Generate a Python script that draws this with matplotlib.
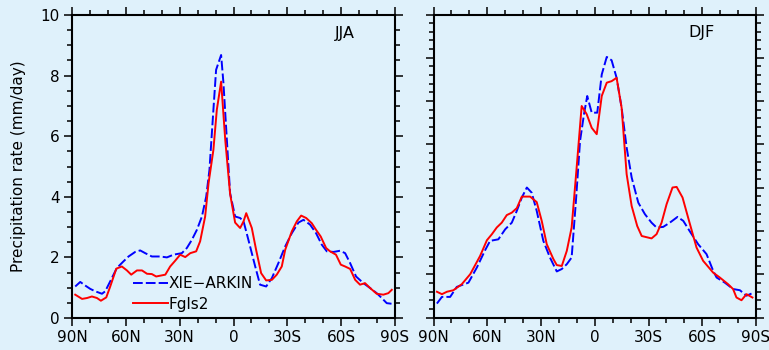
import numpy as np
import matplotlib
matplotlib.use("Agg")
import matplotlib.pyplot as plt
from matplotlib.ticker import FixedLocator, MultipleLocator

# ---------------- data ----------------
xtick_vals = [90, 60, 30, 0, -30, -60, -90]
xtick_labels = ["90N", "60N", "30N", "0", "30S", "60S", "90S"]
series_names = ["XIE\u2212ARKIN", "Fgls2"]
panel_titles = ["JJA", "DJF"]

# JJA, XIE-ARKIN
jja_xa_lat = [88.2, 85.4, 82.6, 79.8, 77.0, 73.3, 71.5, 68.7, 65.0, 61.3, 58.5, 54.8,
              52.0, 49.2, 45.5, 40.8, 37.1, 33.4, 28.8, 26.0, 23.2, 20.4, 17.6, 15.2,
              13.4, 11.2, 9.7, 6.9, 5.6, 3.7, 1.9, -0.9, -3.7, -5.6, -8.3, -12.1, -14.8,
              -18.2, -21.4, -25.0, -28.8, -32.5, -36.2, -39.0, -42.7, -46.0, -49.2, -52.0,
              -55.7, -59.4, -62.2, -65.0, -68.3, -72.4, -76.1, -79.8, -82.6, -85.4, -88.2]
jja_xa_val = [1.04, 1.19, 1.07, 0.96, 0.88, 0.80, 0.88, 1.21, 1.65, 1.87, 2.03, 2.18,
              2.23, 2.14, 2.03, 2.03, 2.00, 2.09, 2.14, 2.31, 2.58, 2.91, 3.35, 4.01,
              4.89, 6.87, 8.19, 8.68, 7.75, 5.88, 4.12, 3.35, 3.30, 3.19, 2.58, 1.70, 1.10,
              1.04, 1.32, 1.81, 2.36, 2.80, 3.15, 3.24, 3.08, 2.80, 2.42, 2.20,
              2.18, 2.22, 2.14, 1.81, 1.37, 1.15, 0.99, 0.82, 0.66, 0.49, 0.47]

# JJA, Fgls2
jja_fg_lat = [88.2, 84.4, 81.6, 78.9, 76.1, 73.9, 70.9, 68.7, 65.3, 62.2, 59.4, 57.0,
              53.8, 51.0, 48.2, 45.5, 43.1, 38.0, 35.3, 32.5, 29.7, 26.9, 24.1, 20.8,
              18.6, 15.8, 13.9, 11.2, 9.3, 6.9, 4.6, 1.9, -0.9, -3.7, -5.6, -7.1, -10.2,
              -12.6, -15.4, -18.2, -21.4, -24.1, -26.9, -28.8, -32.5, -35.3, -37.7, -40.5,
              -43.6, -46.0, -48.6, -51.6, -53.8, -57.1, -59.8, -62.2, -65.0, -67.8, -70.5,
              -73.3, -76.1, -79.8, -83.5, -86.3, -88.2]
jja_fg_val = [0.77, 0.63, 0.66, 0.71, 0.66, 0.57, 0.68, 1.04, 1.63, 1.70, 1.57, 1.43,
              1.57, 1.57, 1.46, 1.45, 1.37, 1.43, 1.70, 1.89, 2.09, 2.01, 2.14, 2.20,
              2.53, 3.35, 4.45, 5.55, 6.87, 7.80, 5.88, 4.10, 3.15, 2.97, 3.19, 3.46, 2.97,
              2.25, 1.48, 1.24, 1.26, 1.43, 1.70, 2.25, 2.86, 3.19, 3.38, 3.30,
              3.13, 2.91, 2.69, 2.31, 2.20, 2.09, 1.76, 1.70, 1.62, 1.26, 1.10,
              1.15, 0.99, 0.80, 0.77, 0.82, 0.93]

# DJF, XIE-ARKIN
djf_xa_lat = [88.1, 85.3, 80.7, 77.0, 70.5, 65.8, 61.2, 58.4, 53.8, 50.0, 46.3, 43.5,
              40.7, 37.9, 35.2, 32.4, 28.7, 25.0, 21.2, 18.4, 15.6, 12.9, 10.5, 8.2,
              6.0, 4.2, 1.7, -1.4, -3.9, -6.7, -9.4, -12.2, -15.0, -17.8, -20.6, -24.3,
              -28.0, -31.7, -34.5, -38.2, -41.9, -46.2, -49.4, -53.1, -57.7, -62.4,
              -66.1, -68.0, -72.6, -77.2, -81.0, -84.7, -87.5]
djf_xa_val = [0.46, 0.68, 0.68, 1.01, 1.15, 1.65, 2.22, 2.53, 2.58, 2.91, 3.13, 3.52,
              3.96, 4.29, 4.12, 3.52, 2.53, 1.98, 1.52, 1.60, 1.76, 1.98, 3.85, 5.83,
              6.71, 7.31, 6.76, 6.76, 8.02, 8.60, 8.49, 7.91, 6.92, 5.61, 4.62, 3.79,
              3.41, 3.13, 2.97, 2.99, 3.13, 3.32, 3.19, 2.84, 2.42, 2.09,
              1.54, 1.32, 1.15, 0.94, 0.90, 0.72, 0.79]

# DJF, Fgls2
djf_fg_lat = [88.1, 85.3, 82.5, 78.9, 74.2, 69.5, 64.0, 60.2, 57.4, 54.7, 51.9, 49.1,
              46.3, 43.5, 40.7, 36.1, 32.4, 29.6, 26.8, 23.1, 21.2, 18.4, 15.6, 12.9,
              10.1, 7.3, 4.5, 1.7, -1.1, -3.9, -6.7, -9.4, -12.2, -15.0, -17.8, -20.6,
              -23.7, -26.2, -31.7, -34.5, -37.3, -40.1, -43.4, -45.7, -49.0, -52.1,
              -56.8, -60.5, -66.1, -69.8, -74.4, -77.2, -79.1, -81.9, -84.7, -88.0]
djf_fg_val = [0.85, 0.77, 0.85, 0.90, 1.10, 1.43, 2.03, 2.55, 2.75, 2.97, 3.13, 3.38,
              3.46, 3.61, 3.99, 3.99, 3.81, 3.19, 2.42, 1.93, 1.73, 1.70, 2.20, 2.97,
              4.95, 6.98, 6.71, 6.26, 6.05, 7.31, 7.75, 7.80, 7.91, 6.92, 4.73, 3.68,
              3.02, 2.69, 2.61, 2.75, 3.13, 3.74, 4.29, 4.31, 3.96, 3.30,
              2.31, 1.87, 1.48, 1.32, 1.10, 0.94, 0.66, 0.57, 0.77, 0.66]

# ---------------- styling ----------------
BG = "#dff1fb"
plt.rcParams["font.family"] = ["DejaVu Sans"]

fig = plt.figure(figsize=(7.69, 3.5), dpi=100, facecolor=BG)
ax1 = fig.add_axes([72 / 769, 32 / 350, 323 / 769, 303 / 350], facecolor=BG)
ax2 = fig.add_axes([433.5 / 769, 32.5 / 350, 322.5 / 769, 303 / 350], facecolor=BG)

panels = [
    (ax1, jja_xa_lat, jja_xa_val, jja_fg_lat, jja_fg_val, panel_titles[0], 0.845),
    (ax2, djf_xa_lat, djf_xa_val, djf_fg_lat, djf_fg_val, panel_titles[1], 0.83),
]

for i, (ax, xlat, xval, flat, fval, title, tx) in enumerate(panels):
    ax.plot(xlat, xval, color="#0000ff", lw=1.4, dashes=(5, 1.6),
            label=series_names[0])
    ax.plot(flat, fval, color="#ff0000", lw=1.4, label=series_names[1])
    ax.set_xlim(90, -90)
    ax.set_ylim(0, 10)
    ax.xaxis.set_major_locator(FixedLocator(xtick_vals))
    ax.xaxis.set_minor_locator(MultipleLocator(10))
    ax.set_xticklabels(xtick_labels)
    if i == 0:
        ax.yaxis.set_major_locator(MultipleLocator(2))
        ax.yaxis.set_minor_locator(MultipleLocator(0.5))
        ax.set_ylabel("Precipitation rate (mm/day)", fontsize=11, labelpad=10)
    else:
        ax.yaxis.set_major_locator(FixedLocator(np.linspace(0, 10, 8)))
        ax.yaxis.set_minor_locator(FixedLocator(np.linspace(0, 10, 36)))
        ax.set_yticklabels([])
    ax.tick_params(which="both", direction="out", top=True, right=True,
                   labeltop=False, labelright=False, width=1.1, labelsize=11,
                   color="black", pad=3)
    ax.tick_params(which="major", length=6)
    ax.tick_params(which="minor", length=3.5)
    for s in ax.spines.values():
        s.set_linewidth(1.5)
    ax.text(tx, 0.94, title, transform=ax.transAxes, fontsize=11.5,
            ha="center", va="center")

ax1.legend(loc="upper left", bbox_to_anchor=(0.189, 0.138), frameon=False,
           fontsize=11, handlelength=2.3, handletextpad=0.05, borderpad=0,
           borderaxespad=0, labelspacing=0.35)

fig.savefig("out.png", dpi=100, facecolor=BG)
